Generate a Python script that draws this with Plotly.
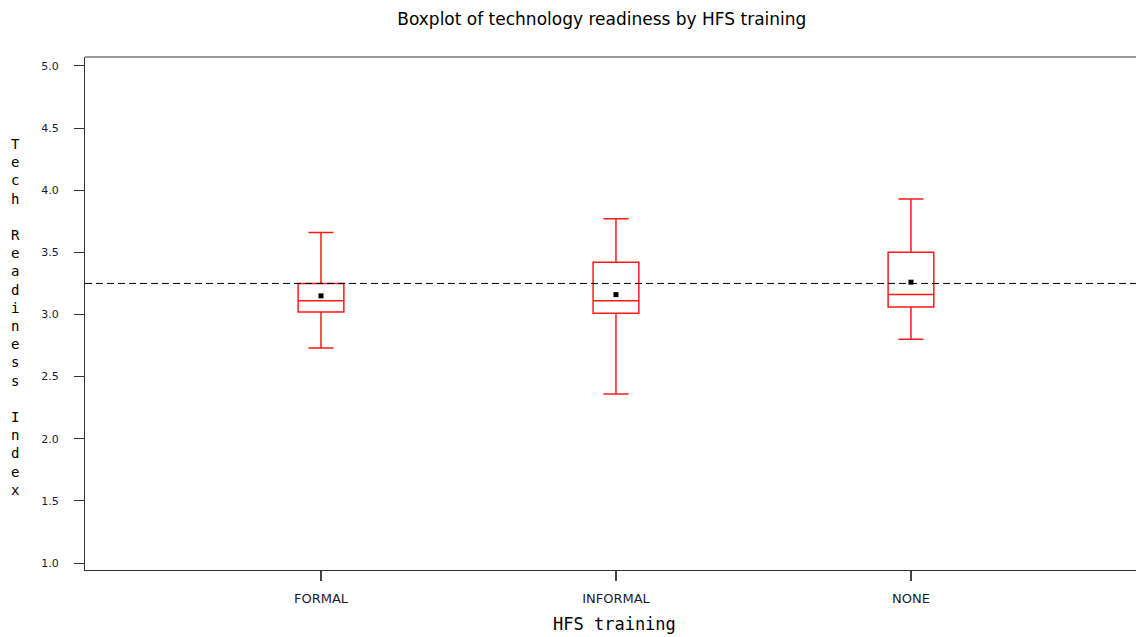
import plotly.graph_objects as go

# Data
categories = ["FORMAL", "INFORMAL", "NONE"]
cat_pos = [1, 2, 3]
lower_whisker = [2.73, 2.36, 2.80]
q1_vals = [3.02, 3.01, 3.06]
median_vals = [3.11, 3.11, 3.16]
q3_vals = [3.25, 3.42, 3.50]
upper_whisker = [3.66, 3.77, 3.93]
mean_vals = [3.15, 3.16, 3.26]
grand_mean = 3.25

y_ticks = [1.0, 1.5, 2.0, 2.5, 3.0, 3.5, 4.0, 4.5, 5.0]
y_ticktext = ["%.1f" % v for v in y_ticks]

fig = go.Figure()

fig.add_trace(go.Box(
    x=cat_pos,
    lowerfence=lower_whisker,
    q1=q1_vals,
    median=median_vals,
    q3=q3_vals,
    upperfence=upper_whisker,
    width=0.155,
    whiskerwidth=0.55,
    fillcolor="rgba(255,255,255,0)",
    line=dict(color="#ff1a1a", width=1.5),
    boxpoints=False,
    showlegend=False,
    hoverinfo="skip",
))

fig.add_trace(go.Scatter(
    x=cat_pos,
    y=mean_vals,
    mode="markers",
    marker=dict(symbol="square", size=5, color="black"),
    showlegend=False,
    hoverinfo="skip",
))

fig.add_hline(y=grand_mean, line=dict(color="black", width=1, dash="7px,4px"))

# top frame line
fig.add_shape(type="line", xref="paper", yref="paper", x0=0, x1=1, y0=1, y1=1,
              line=dict(color="#333333", width=1.2))

fig.update_layout(
    width=1136, height=629,
    margin=dict(l=77, r=0, t=49, b=67),
    paper_bgcolor="white", plot_bgcolor="white",
    title=dict(text="Boxplot of technology readiness by HFS training",
               x=0.488, xref="paper", xanchor="center", y=0.982, yanchor="middle",
               font=dict(family="DejaVu Sans", size=17, color="black")),
    xaxis=dict(range=[0.2, 3.79], tickvals=cat_pos, ticktext=categories,
               showgrid=False, zeroline=False, showline=True, linecolor="#333333", linewidth=1.2,
               ticks="outside", ticklen=10, tickcolor="#444444", tickwidth=2,
               ticklabelstandoff=6,
               tickfont=dict(family="DejaVu Sans", size=13, color="#1a1a33")),
    yaxis=dict(range=[0.944, 5.072], tickvals=y_ticks, ticktext=y_ticktext,
               showgrid=False, zeroline=False, showline=True, linecolor="#333333", linewidth=1.2,
               ticks="outside", ticklen=10, tickcolor="#333333", tickwidth=1,
               ticklabelstandoff=13,
               tickfont=dict(family="DejaVu Sans", size=11, color="#1a1a33")),
    annotations=[
        dict(text="HFS training", xref="paper", yref="paper", x=0.5, y=-0.105,
             xanchor="center", yanchor="middle", showarrow=False,
             font=dict(family="DejaVu Sans Mono", size=17, color="black")),
        dict(text="<br>".join(list("Tech Readiness Index")).replace("<br> <br>", "<br><br>"),
             xref="paper", yref="paper", x=-0.066, y=0.494,
             xanchor="center", yanchor="middle", showarrow=False,
             font=dict(family="DejaVu Sans Mono", size=14, color="black")),
    ],
)

fig.write_html("out.html")
